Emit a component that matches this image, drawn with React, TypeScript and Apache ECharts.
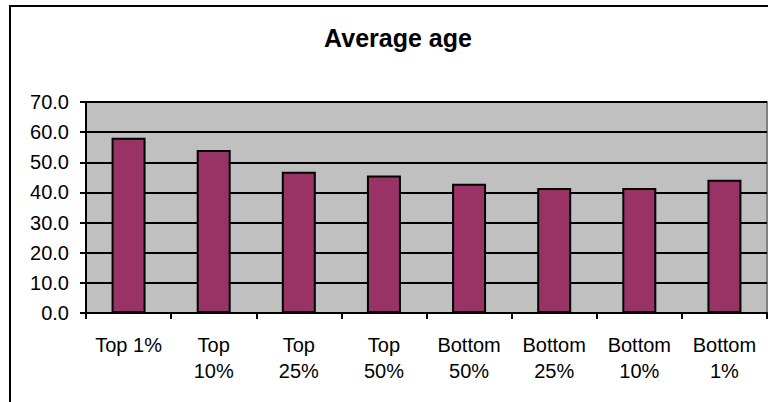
import React, { useEffect, useRef } from "react";
import * as echarts from "echarts";

const categories = [
  "Top 1%",
  "Top\n10%",
  "Top\n25%",
  "Top\n50%",
  "Bottom\n50%",
  "Bottom\n25%",
  "Bottom\n10%",
  "Bottom\n1%",
];
const averageAge = [58.1, 54.1, 46.9, 45.6, 42.9, 41.5, 41.5, 44.2];
const yTicks = { min: 0, max: 70, interval: 10 };
const titleText = "Average age";

const FONT = "'Liberation Sans', Arial, sans-serif";

export default function App() {
  const ref = useRef<HTMLDivElement>(null);

  useEffect(() => {
    if (!ref.current) return;
    const chart = echarts.init(ref.current, null, { renderer: "svg" });
    chart.setOption({
      animation: false,
      backgroundColor: "#ffffff",
      graphic: [
        {
          type: "rect",
          shape: { x: 10, y: 6, width: 900, height: 600 },
          style: { fill: "none", stroke: "#000000", lineWidth: 2 },
          silent: true,
        },
        {
          type: "text",
          style: {
            text: titleText,
            x: 398,
            y: 38,
            align: "center",
            verticalAlign: "middle",
            font: `bold 25px ${FONT}`,
            fill: "#000000",
          },
        },
      ],
      grid: {
        left: 86,
        top: 102,
        right: 1,
        bottom: 89,
        show: true,
        backgroundColor: "#c0c0c0",
        borderColor: "#808080",
        borderWidth: 2,
      },
      xAxis: {
        type: "category",
        data: categories,
        boundaryGap: true,
        axisLine: { show: true, lineStyle: { color: "#000000", width: 2 } },
        axisTick: {
          show: true,
          alignWithLabel: false,
          length: 6,
          lineStyle: { color: "#000000", width: 2 },
        },
        axisLabel: {
          interval: 0,
          margin: 19,
          color: "#000000",
          fontFamily: FONT,
          fontSize: 20,
          lineHeight: 26,
          align: "center",
        },
        splitLine: { show: false },
      },
      yAxis: {
        type: "value",
        min: yTicks.min,
        max: yTicks.max,
        interval: yTicks.interval,
        axisLine: { show: true, lineStyle: { color: "#000000", width: 2 } },
        axisTick: {
          show: true,
          length: 6,
          lineStyle: { color: "#000000", width: 2 },
        },
        axisLabel: {
          margin: 17,
          color: "#000000",
          fontFamily: FONT,
          fontSize: 20,
          formatter: (v: number) => v.toFixed(1),
        },
        splitLine: { show: true, lineStyle: { color: "#000000", width: 2 } },
      },
      series: [
        {
          type: "bar",
          data: averageAge,
          barWidth: 34,
          itemStyle: {
            color: "#993366",
            borderColor: "#000000",
            borderWidth: 2,
          },
        },
      ],
    });
    return () => chart.dispose();
  }, []);

  return (
    <div
      ref={ref}
      style={{ position: "fixed", left: 0, top: 0, width: 768, height: 402 }}
    />
  );
}
